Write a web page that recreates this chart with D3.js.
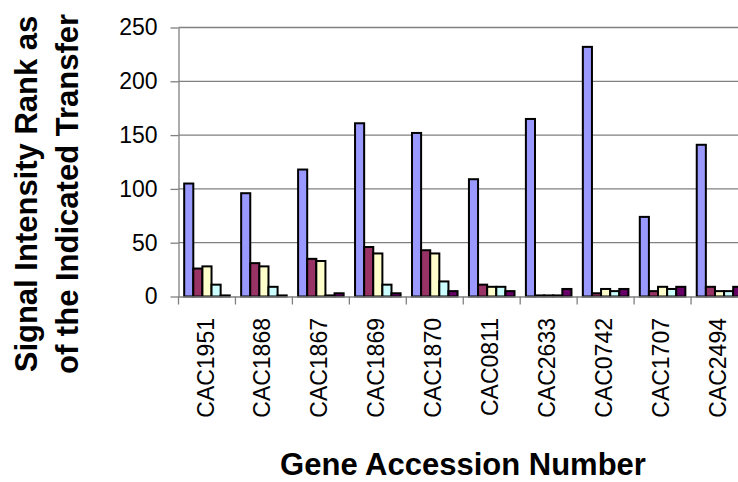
<!DOCTYPE html>
<html><head><meta charset="utf-8">
<script src="https://cdn.jsdelivr.net/npm/d3@7"></script>
<style>body{margin:0;background:#fff;} svg{display:block;font-family:"Liberation Sans",Arial,sans-serif;}</style>
</head><body>
<svg id="chart" width="738" height="482"></svg>
<script>
const categories = ["CAC1951","CAC1868","CAC1867","CAC1869","CAC1870","CAC0811","CAC2633","CAC0742","CAC1707","CAC2494"];
const seriesNames = ["s1","s2","s3","s4","s5"];
const s1 = [105, 96, 118, 161, 152, 109, 165, 232, 74, 141];
const s2 = [26, 31, 35, 46, 43, 11, 1, 3, 5, 9];
const s3 = [28, 28, 33, 40, 40, 9, 1, 7, 9, 5];
const s4 = [11, 9, 1, 11, 14, 9, 1, 5, 7, 5];
const s5 = [1, 1, 3, 3, 5, 5, 7, 7, 9, 9];
const seriesValues = [s1, s2, s3, s4, s5];
const colors = ["#9999FF","#993366","#FFFFCC","#CCFFFF","#660066"];
const yTicks = [0, 50, 100, 150, 200, 250];

const svg = d3.select("#chart");
const mLeft = 178.5, mRight = 748, mTop = 27.5, mBottom = 296.5;

const x0 = d3.scaleBand().domain(categories).range([mLeft, mRight]).padding(0);
const bw = x0.bandwidth();
const gap = bw * 0.2;
const x1 = d3.scaleBand().domain(seriesNames).range([gap/2, bw - gap/2]).padding(0);
const y = d3.scaleLinear().domain([0, 250]).range([mBottom, mTop]);

// gridlines
svg.append("g").selectAll("line").data(yTicks.filter(d => d > 0)).join("line")
  .attr("x1", mLeft).attr("x2", 738)
  .attr("y1", d => y(d)).attr("y2", d => y(d))
  .attr("stroke", "#808080").attr("stroke-width", 1.3);

// bars
const groups = svg.append("g").selectAll("g").data(categories).join("g")
  .attr("transform", d => `translate(${x0(d)},0)`);
groups.selectAll("rect").data((c, i) => seriesNames.map((s, j) => ({s, j, v: seriesValues[j][i]})))
  .join("rect")
  .attr("x", d => x1(d.s))
  .attr("width", x1.bandwidth())
  .attr("y", d => y(d.v))
  .attr("height", d => y(0) - y(d.v))
  .attr("fill", d => colors[d.j])
  .attr("stroke", "#000").attr("stroke-width", 2);

// y axis
const yAxis = svg.append("g").attr("transform", `translate(${mLeft},0)`)
  .call(d3.axisLeft(y).tickValues(yTicks).tickSize(8).tickPadding(13).tickSizeOuter(0));
yAxis.select(".domain").attr("stroke", "#808080").attr("stroke-width", 1.3);
yAxis.selectAll(".tick line").attr("stroke", "#808080").attr("stroke-width", 1.3);
yAxis.selectAll(".tick text").attr("font-size", 23).attr("fill", "#000")
  .attr("font-family", "Liberation Sans, Arial, sans-serif");

// x axis
const xAxis = svg.append("g").attr("transform", `translate(0,${mBottom})`)
  .call(d3.axisBottom(x0).tickSize(0).tickFormat(""));
xAxis.select(".domain").attr("stroke", "#808080").attr("stroke-width", 1.3);
xAxis.selectAll(".tick").remove();
const boundaries = categories.map(c => x0(c)).concat([x0(categories[categories.length-1]) + bw]);
xAxis.selectAll("line.bt").data(boundaries).join("line").attr("class","bt")
  .attr("x1", d => d).attr("x2", d => d).attr("y1", 0).attr("y2", 8)
  .attr("stroke", "#808080").attr("stroke-width", 1.3);
xAxis.selectAll("text.cl").data(categories).join("text").attr("class","cl")
  .attr("transform", d => `translate(${x0(d) + bw/2 - 1.5},${318 - mBottom}) rotate(-90)`)
  .attr("text-anchor", "end").attr("dy", "0.35em")
  .attr("font-size", 23).attr("fill", "#000").text(d => d);

// titles
svg.append("text").attr("x", 463).attr("y", 475).attr("text-anchor", "middle")
  .attr("font-size", 31).attr("font-weight", "bold").text("Gene Accession Number");
const yt = svg.append("text").attr("transform", "translate(0,194) rotate(-90)")
  .attr("text-anchor", "middle").attr("font-size", 31).attr("font-weight", "bold");
yt.append("tspan").attr("x", 0).attr("y", 37).text("Signal Intensity Rank as");
yt.append("tspan").attr("x", 0).attr("y", 78).text("of the Indicated Transfer");
</script>
</body></html>
